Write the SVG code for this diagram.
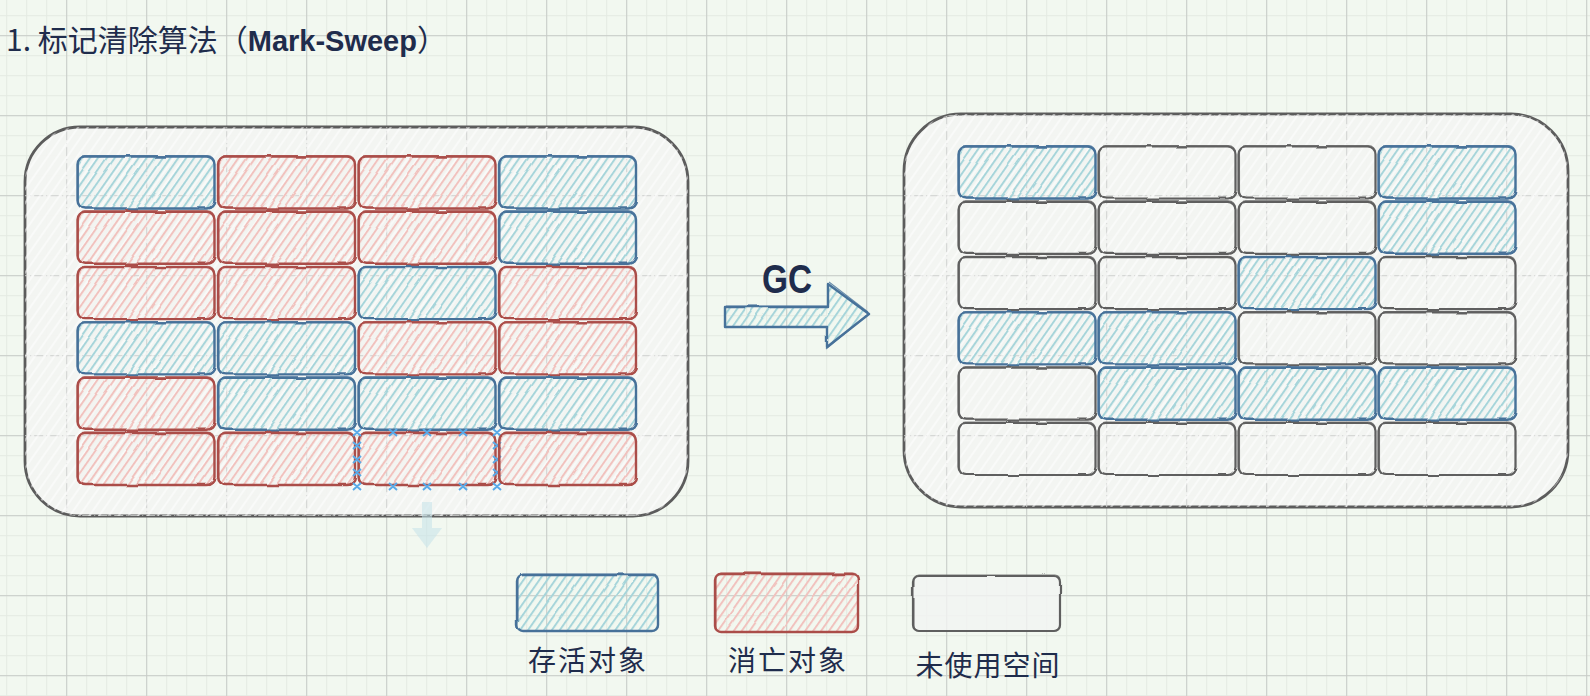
<svg xmlns="http://www.w3.org/2000/svg" xmlns:xlink="http://www.w3.org/1999/xlink" width="1590" height="696" viewBox="0 0 1590 696">
<style>
.txt{fill:#1f2c4c;font-family:"Noto Sans CJK SC","Noto Sans",sans-serif;}
.cont{fill:#f3f4f2;fill-opacity:0.93;stroke:#5c5c5c;stroke-width:2.8;}
.sB{fill:none;stroke:#47729a;stroke-width:2.4;}
.sB2{fill:none;stroke:#47729a;stroke-width:1.1;opacity:0.8;}
.sR{fill:none;stroke:#ab4e49;stroke-width:2.4;}
.sR2{fill:none;stroke:#ab4e49;stroke-width:1.1;opacity:0.8;}
.sG{fill:none;stroke:#5f5f5f;stroke-width:2.2;}
.sG2{fill:none;stroke:#5f5f5f;stroke-width:1.1;opacity:0.8;}
.xm{stroke:#5aaae8;stroke-width:2;fill:none;}
</style>
<defs>
<pattern id="gMinor" patternUnits="userSpaceOnUse" x="6.2" y="15.2" width="20" height="20">
<rect width="20" height="1" fill="#e4eae2"/><rect width="1" height="20" fill="#e4eae2"/>
</pattern>
<pattern id="gMajor" patternUnits="userSpaceOnUse" x="66.2" y="35.2" width="80" height="80">
<rect width="80" height="1" fill="#c8ccc8"/><rect width="1" height="80" fill="#c8ccc8"/>
</pattern>
<pattern id="gDash" patternUnits="userSpaceOnUse" x="66.2" y="35.2" width="80" height="80">
<path d="M0 0.5H80M0.5 0V80" stroke="#cfd1cf" stroke-width="1" stroke-dasharray="9 3 1 3" fill="none"/>
</pattern>
<pattern id="hB" patternUnits="userSpaceOnUse" width="6.5" height="6.5" patternTransform="rotate(35)">
<rect width="2" height="6.5" fill="#a7d5da"/>
</pattern>
<pattern id="hR" patternUnits="userSpaceOnUse" width="6.5" height="6.5" patternTransform="rotate(35)">
<rect width="2" height="6.5" fill="#f1c2be"/>
</pattern>
<pattern id="hW" patternUnits="userSpaceOnUse" width="8" height="8" patternTransform="rotate(35)">
<rect width="2" height="8" fill="#ffffff" opacity="0.5"/>
</pattern>
<filter id="rough" x="-5%" y="-10%" width="110%" height="120%">
<feTurbulence type="fractalNoise" baseFrequency="0.03" numOctaves="2" seed="5"/>
<feDisplacementMap in="SourceGraphic" scale="2.2" xChannelSelector="R" yChannelSelector="G"/>
</filter>
<g id="cellB" filter="url(#rough)">
<rect x="1.5" y="1.5" width="137" height="52" rx="8" fill="url(#hB)"/>
<rect x="1.5" y="1.5" width="137" height="52" rx="8" class="sB"/>
<rect x="2.5" y="0.6" width="136" height="53" rx="7" class="sB2"/>
</g>
<g id="cellR" filter="url(#rough)">
<rect x="1.5" y="1.5" width="137" height="52" rx="8" fill="url(#hR)"/>
<rect x="1.5" y="1.5" width="137" height="52" rx="8" class="sR"/>
<rect x="2.5" y="0.6" width="136" height="53" rx="7" class="sR2"/>
</g>
<g id="cellG" filter="url(#rough)">
<rect x="1.5" y="1.5" width="137" height="52" rx="8" class="sG"/>
<rect x="2.5" y="0.6" width="136" height="53" rx="7" class="sG2"/>
</g>
</defs>

<rect width="1590" height="696" fill="#f2f8f0"/>
<rect width="1590" height="696" fill="url(#gMinor)"/>
<rect width="1590" height="696" fill="url(#gMajor)"/>

<g id="title">
<text class="txt" x="6" y="51" font-size="30">1. 标记清除算法（<tspan font-family="Liberation Sans, sans-serif" font-weight="bold" font-size="29">Mark-Sweep</tspan>）</text>
</g>

<g id="left-heap">
<rect class="cont" x="25" y="127" width="663" height="389" rx="55"/>
<rect x="25" y="127" width="663" height="389" rx="55" fill="url(#gDash)"/>
<rect x="25" y="127" width="663" height="389" rx="55" fill="url(#hW)"/>
</g>
<g id="right-heap">
<rect class="cont" x="904" y="114" width="664" height="393" rx="57"/>
<rect x="904" y="114" width="664" height="393" rx="57" fill="url(#gDash)"/>
<rect x="904" y="114" width="664" height="393" rx="57" fill="url(#hW)"/>
</g>

<g id="left-cells">
<g id="L-r1c1"><use href="#cellB" x="76" y="155"/></g>
<g id="L-r1c2"><use href="#cellR" x="216.5" y="155"/></g>
<g id="L-r1c3"><use href="#cellR" x="357" y="155"/></g>
<g id="L-r1c4"><use href="#cellB" x="497.5" y="155"/></g>
<g id="L-r2c1"><use href="#cellR" x="76" y="210.3"/></g>
<g id="L-r2c2"><use href="#cellR" x="216.5" y="210.3"/></g>
<g id="L-r2c3"><use href="#cellR" x="357" y="210.3"/></g>
<g id="L-r2c4"><use href="#cellB" x="497.5" y="210.3"/></g>
<g id="L-r3c1"><use href="#cellR" x="76" y="265.6"/></g>
<g id="L-r3c2"><use href="#cellR" x="216.5" y="265.6"/></g>
<g id="L-r3c3"><use href="#cellB" x="357" y="265.6"/></g>
<g id="L-r3c4"><use href="#cellR" x="497.5" y="265.6"/></g>
<g id="L-r4c1"><use href="#cellB" x="76" y="320.9"/></g>
<g id="L-r4c2"><use href="#cellB" x="216.5" y="320.9"/></g>
<g id="L-r4c3"><use href="#cellR" x="357" y="320.9"/></g>
<g id="L-r4c4"><use href="#cellR" x="497.5" y="320.9"/></g>
<g id="L-r5c1"><use href="#cellR" x="76" y="376.2"/></g>
<g id="L-r5c2"><use href="#cellB" x="216.5" y="376.2"/></g>
<g id="L-r5c3"><use href="#cellB" x="357" y="376.2"/></g>
<g id="L-r5c4"><use href="#cellB" x="497.5" y="376.2"/></g>
<g id="L-r6c1"><use href="#cellR" x="76" y="431.5"/></g>
<g id="L-r6c2"><use href="#cellR" x="216.5" y="431.5"/></g>
<g id="L-r6c3"><use href="#cellR" x="357" y="431.5"/>
<path class="xm" d="M353 429l8 7m0-7l-8 7M389 429l8 7m0-7l-8 7M423 429l8 7m0-7l-8 7M459 429l8 7m0-7l-8 7M493 429l8 7m0-7l-8 7
M353 483l8 7m0-7l-8 7M389 483l8 7m0-7l-8 7M423 483l8 7m0-7l-8 7M459 483l8 7m0-7l-8 7M493 483l8 7m0-7l-8 7
M353 442l8 7m0-7l-8 7M353 456l8 7m0-7l-8 7M353 469l8 7m0-7l-8 7
M493 442l8 7m0-7l-8 7M493 456l8 7m0-7l-8 7M493 469l8 7m0-7l-8 7"/>
</g>
<g id="L-r6c4"><use href="#cellR" x="497.5" y="431.5"/></g>
</g>

<g id="right-cells">
<g id="R-r1c1"><use href="#cellB" x="957" y="145"/></g>
<g id="R-r1c2"><use href="#cellG" x="1097" y="145"/></g>
<g id="R-r1c3"><use href="#cellG" x="1237" y="145"/></g>
<g id="R-r1c4"><use href="#cellB" x="1377" y="145"/></g>
<g id="R-r2c1"><use href="#cellG" x="957" y="200.3"/></g>
<g id="R-r2c2"><use href="#cellG" x="1097" y="200.3"/></g>
<g id="R-r2c3"><use href="#cellG" x="1237" y="200.3"/></g>
<g id="R-r2c4"><use href="#cellB" x="1377" y="200.3"/></g>
<g id="R-r3c1"><use href="#cellG" x="957" y="255.6"/></g>
<g id="R-r3c2"><use href="#cellG" x="1097" y="255.6"/></g>
<g id="R-r3c3"><use href="#cellB" x="1237" y="255.6"/></g>
<g id="R-r3c4"><use href="#cellG" x="1377" y="255.6"/></g>
<g id="R-r4c1"><use href="#cellB" x="957" y="310.9"/></g>
<g id="R-r4c2"><use href="#cellB" x="1097" y="310.9"/></g>
<g id="R-r4c3"><use href="#cellG" x="1237" y="310.9"/></g>
<g id="R-r4c4"><use href="#cellG" x="1377" y="310.9"/></g>
<g id="R-r5c1"><use href="#cellG" x="957" y="366.2"/></g>
<g id="R-r5c2"><use href="#cellB" x="1097" y="366.2"/></g>
<g id="R-r5c3"><use href="#cellB" x="1237" y="366.2"/></g>
<g id="R-r5c4"><use href="#cellB" x="1377" y="366.2"/></g>
<g id="R-r6c1"><use href="#cellG" x="957" y="421.5"/></g>
<g id="R-r6c2"><use href="#cellG" x="1097" y="421.5"/></g>
<g id="R-r6c3"><use href="#cellG" x="1237" y="421.5"/></g>
<g id="R-r6c4"><use href="#cellG" x="1377" y="421.5"/></g>
</g>

<g id="connectors">
<g id="gc-arrow" filter="url(#rough)">
<path d="M725 307 H828 V284 L869 314 L827 347 V327 H725 Z" fill="url(#hB)"/>
<path d="M725 307 H828 V284 L869 314 L827 347 V327 H725 Z" fill="none" stroke="#47729a" stroke-width="2.4" stroke-linejoin="round"/>
<path d="M726 306 H827 M829 282 L868 312 M826 349 L866 316" fill="none" stroke="#47729a" stroke-width="1.1" opacity="0.8"/>
</g>
<g id="faint-arrow" opacity="0.55">
<path d="M422 502 H432 V528 H442 L427 548 L412 528 H422 Z" fill="#c5e2ea"/>
</g>
</g>
<g id="gc-label">
<text x="787" y="293" text-anchor="middle" font-family="Liberation Sans, sans-serif" font-weight="bold" font-size="41" fill="#1f2c4c" textLength="50" lengthAdjust="spacingAndGlyphs">GC</text>
</g>

<g id="legend-live">
<g filter="url(#rough)">
<rect x="517" y="575" width="141" height="56" rx="6" fill="url(#hB)"/>
<rect x="517" y="575" width="141" height="56" rx="6" class="sB"/>
<rect x="518" y="574" width="140" height="57" rx="5" class="sB2"/>
</g>
<text class="txt" x="588" y="671" font-size="28" letter-spacing="2" text-anchor="middle">存活对象</text>
</g>
<g id="legend-dead">
<g filter="url(#rough)">
<rect x="715" y="574" width="143" height="58" rx="6" fill="url(#hR)"/>
<rect x="715" y="574" width="143" height="58" rx="6" class="sR"/>
<rect x="716" y="573" width="142" height="59" rx="5" class="sR2"/>
</g>
<text class="txt" x="788" y="671" font-size="28" letter-spacing="2" text-anchor="middle">消亡对象</text>
</g>
<g id="legend-free">
<g filter="url(#rough)">
<rect x="913" y="576" width="147" height="55" rx="6" fill="#f3f4f2" fill-opacity="0.8"/>
<rect x="913" y="576" width="147" height="55" rx="6" class="sG"/>
<rect x="914" y="575" width="146" height="56" rx="5" class="sG2"/>
</g>
<text class="txt" x="988" y="676" font-size="28" letter-spacing="1" text-anchor="middle">未使用空间</text>
</g>
</svg>
